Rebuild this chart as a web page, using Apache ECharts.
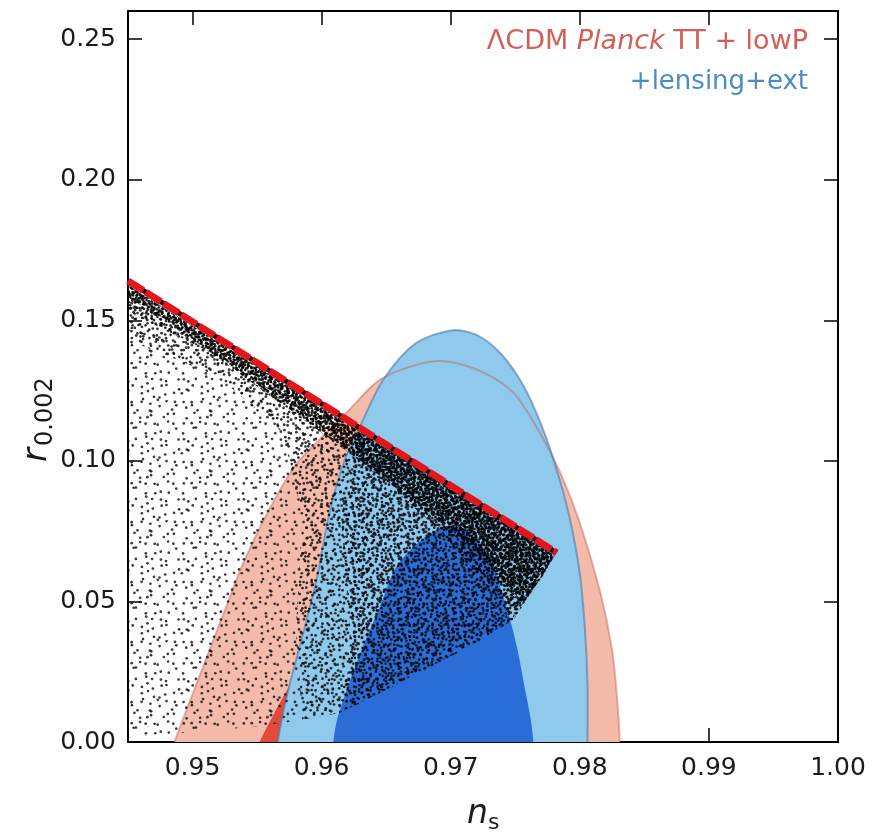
<!DOCTYPE html>
<html>
<head>
<meta charset="utf-8">
<script src="https://cdn.jsdelivr.net/npm/echarts@6/dist/echarts.min.js"></script>
<style>
  html, body { margin: 0; padding: 0; background: #fff; }
  #chart { width: 872px; height: 832px; }
</style>
</head>
<body>
<div id="chart"></div>
<script>
// Axis ticks
const xTicks = [0.95, 0.96, 0.97, 0.98, 0.99, 1.00];
const yTicks = [0.00, 0.05, 0.10, 0.15, 0.20, 0.25];

// ΛCDM Planck TT+lowP constraints (n_s, r_0.002): 95% and 68% regions
const planckOuter = [[0.9484,-0.004],[0.9486,0],[0.9500,0.017],[0.9514,0.0338],[0.9526,0.048],[0.9538,0.0623],[0.9558,0.0815],[0.9579,0.098],[0.9596,0.1065],[0.9621,0.118],[0.9645,0.1288],[0.9676,0.1345],[0.9697,0.1353],[0.9725,0.1315],[0.9749,0.124],[0.9769,0.110],[0.9785,0.0957],[0.9800,0.078],[0.9816,0.053],[0.9825,0.0327],[0.9829,0.0149],[0.9831,0],[0.9831,-0.004]];
const planckInner = [[0.9550,-0.004],[0.9552,0],[0.9563,0.010],[0.9575,0.020],[0.9592,0.034],[0.9612,0.055],[0.9634,0.078],[0.9660,0.095],[0.9692,0.101],[0.9725,0.095],[0.9752,0.080],[0.9770,0.058],[0.9780,0.035],[0.9784,0.015],[0.9785,0],[0.9785,-0.004]];
// +lensing+ext constraints: 95% and 68% regions
const extOuter = [[0.9565,-0.004],[0.9566,0],[0.9570,0.010],[0.9575,0.020],[0.9583,0.034],[0.9596,0.0577],[0.9606,0.0815],[0.9617,0.0993],[0.9631,0.1135],[0.9648,0.129],[0.9672,0.1415],[0.9700,0.1464],[0.9720,0.1448],[0.9739,0.1380],[0.9756,0.1270],[0.9770,0.1130],[0.9782,0.0970],[0.9792,0.0800],[0.9800,0.0600],[0.9804,0.0400],[0.9806,0.0200],[0.9806,0],[0.9806,-0.004]];
const extInner = [[0.9608,-0.004],[0.9609,0],[0.9612,0.008],[0.9622,0.022],[0.9632,0.034],[0.9645,0.048],[0.9658,0.0624],[0.9675,0.071],[0.9690,0.0755],[0.9705,0.0765],[0.9720,0.072],[0.9733,0.062],[0.9742,0.050],[0.9748,0.040],[0.9753,0.030],[0.9757,0.020],[0.9762,0.008],[0.9764,0],[0.9764,-0.004]];

// Model predictions: region covered by the sampled points, and where they pile up
const modelCloud = [[0.945,0.1625],[0.9781,0.0667],[0.9765,0.055],[0.97485,0.0434],[0.9715,0.034],[0.9684,0.0267],[0.9650,0.0185],[0.9614,0.0103],[0.9580,0.0075],[0.9550,0.0055],[0.9500,0.0035],[0.9450,0.0020]];
const modelCloudMid = [[0.945,0.1625],[0.9781,0.0667],[0.9765,0.055],[0.97485,0.0434],[0.9684,0.0267],[0.9614,0.0103],[0.9585,0.008],[0.9580,0.040],[0.9585,0.080],[0.9570,0.110],[0.9520,0.130],[0.9450,0.143]];
const modelCloudRight = [[0.9626,0.1115],[0.9781,0.0667],[0.9765,0.055],[0.97485,0.0434],[0.9715,0.034],[0.9684,0.0267],[0.9650,0.0185],[0.9618,0.0110],[0.9622,0.040],[0.9615,0.080]];
const modelCloudDense = [[0.945,0.1625],[0.9781,0.0667],[0.9765,0.055],[0.9748,0.044],[0.9720,0.060],[0.9690,0.076],[0.9650,0.092],[0.9600,0.112],[0.9530,0.135],[0.9450,0.153]];
const modelCloudCore = [[0.945,0.1625],[0.9781,0.0667],[0.9770,0.058],[0.9755,0.050],[0.9735,0.060],[0.9712,0.071],[0.9685,0.081],[0.9650,0.093],[0.9600,0.110],[0.9530,0.133],[0.9480,0.150],[0.9450,0.158]];
// Upper edge of the model predictions
const predictionLine = [[0.945,0.164],[0.9782,0.0673]];

// Stipple texture: one dot per grid cell, nudged inside its cell
function cellHash(i, j, s) {
  let h = (Math.imul(i + 1, 374761393) + Math.imul(j + 1, 668265263) + Math.imul(s + 1, 1442695041)) | 0;
  h = Math.imul(h ^ (h >>> 13), 1274126177);
  h ^= h >>> 16;
  return (h >>> 0) / 4294967296;
}
function stipple(cell, cells, seed, color, radius) {
  const size = Math.round(cell * cells);
  const step = size / cells;
  const c = document.createElement('canvas');
  c.width = size; c.height = size;
  const g = c.getContext('2d');
  g.fillStyle = color;
  for (let i = 0; i < cells; i++) for (let j = 0; j < cells; j++) {
    const px = (i + cellHash(i, j, seed)) * step;
    const py = (j + cellHash(j, i, seed + 17)) * step;
    for (const dx of [-size, 0, size]) for (const dy of [-size, 0, size]) {
      g.beginPath(); g.arc(px + dx, py + dy, radius, 0, Math.PI * 2); g.fill();
    }
  }
  return c;
}

const FONT = 'DejaVu Sans';

function region(name, pts, style, z, smooth) {
  return {
    type: 'custom', name, data: pts, z, silent: true,
    xAxisIndex: 0, yAxisIndex: 0,
    renderItem(params, api) {
      if (params.dataIndex !== 0) return null;
      const cs = params.coordSys;
      return {
        type: 'polygon',
        shape: { points: pts.map(p => api.coord(p)), smooth: smooth || 0 },
        style,
        clipPath: { type: 'rect', shape: { x: cs.x, y: cs.y, width: cs.width, height: cs.height } }
      };
    }
  };
}

const chart = echarts.init(document.getElementById('chart'), null, { renderer: 'canvas' });

const tickStyle = { inside: true, length: 14, lineStyle: { color: '#000', width: 1.5 } };
const lineStyle = { lineStyle: { color: '#000', width: 2 } };

chart.setOption({
  animation: false,
  backgroundColor: '#fff',
  grid: { left: 128, right: 34, top: 11, bottom: 90, containLabel: false },
  xAxis: [
    { type: 'value', min: 0.945, max: 1.0, position: 'bottom', splitLine: { show: false },
      axisLine: { show: true, onZero: false, ...lineStyle },
      axisTick: { ...tickStyle, customValues: xTicks },
      axisLabel: { customValues: xTicks, margin: 14, fontSize: 25, fontFamily: FONT, color: '#1a1a1a', formatter: v => v.toFixed(2) } },
    { type: 'value', min: 0.945, max: 1.0, position: 'top', splitLine: { show: false },
      axisLine: { show: true, onZero: false, ...lineStyle },
      axisTick: { ...tickStyle, customValues: xTicks },
      axisLabel: { show: false } }
  ],
  yAxis: [
    { type: 'value', min: 0, max: 0.26, position: 'left', splitLine: { show: false },
      axisLine: { show: true, onZero: false, ...lineStyle },
      axisTick: { ...tickStyle, customValues: yTicks },
      axisLabel: { customValues: yTicks, margin: 12, fontSize: 25, fontFamily: FONT, color: '#1a1a1a', formatter: v => v.toFixed(2) } },
    { type: 'value', min: 0, max: 0.26, position: 'right', splitLine: { show: false },
      axisLine: { show: true, onZero: false, ...lineStyle },
      axisTick: { ...tickStyle, customValues: yTicks },
      axisLabel: { show: false } }
  ],
  series: [
    region('planck95', planckOuter, { fill: '#f5bbaa' }, 1, 0.3),
    region('planck68', planckInner, { fill: '#e04b3b' }, 2, 0.3),
    region('ext95', extOuter, { fill: '#8fc9ec' }, 3, 0.3),
    region('ext68', extInner, { fill: '#2a6dd6' }, 4, 0.3),
    region('planck95 edge', planckOuter, { fill: 'none', stroke: 'rgba(195,95,85,0.45)', lineWidth: 2 }, 5, 0.3),
    region('ext95 edge', extOuter, { fill: 'none', stroke: 'rgba(80,120,175,0.6)', lineWidth: 2 }, 6, 0.3),
    region('models', modelCloud, { fill: { image: stipple(7.5, 8, 1, 'rgba(25,25,25,0.85)', 1.35), repeat: 'repeat' } }, 7, 0),
    region('models mid', modelCloudMid, { fill: { image: stipple(5.5, 10, 5, 'rgba(10,10,10,0.85)', 1.35), repeat: 'repeat' } }, 8, 0),
    region('models right', modelCloudRight, { fill: { image: stipple(5, 11, 21, 'rgba(5,5,20,0.85)', 1.35), repeat: 'repeat' } }, 8, 0),
    region('models dense', modelCloudDense, { fill: { image: stipple(4.2, 12, 9, 'rgba(0,0,0,0.85)', 1.35), repeat: 'repeat' } }, 9, 0),
    region('models core', modelCloudCore, { fill: { image: stipple(3, 14, 13, 'rgba(0,0,0,0.9)', 1.3), repeat: 'repeat' } }, 10, 0),
    { type: 'line', name: 'edge shadow', data: predictionLine, z: 11, symbol: 'none', silent: true,
      xAxisIndex: 0, yAxisIndex: 0,
      lineStyle: { color: '#1a0505', width: 5 } },
    { type: 'line', name: 'edge', data: predictionLine, z: 12, symbol: 'none', silent: true,
      xAxisIndex: 0, yAxisIndex: 0,
      lineStyle: { color: '#e3161d', width: 7, type: [18, 3], cap: 'butt' } }
  ],
  graphic: [
    { type: 'text', right: 64, top: 28, z: 20,
      style: { text: '{a|ΛCDM }{b|Planck}{a| TT + lowP}',
        rich: { a: { fontSize: 27, fontFamily: FONT, fill: '#d25f5a' },
                b: { fontSize: 27, fontFamily: FONT, fontStyle: 'italic', fill: '#d25f5a' } } } },
    { type: 'text', right: 64, top: 69, z: 20,
      style: { text: '+lensing+ext', fontSize: 26, fontFamily: FONT, fill: '#4a8cc8' } },
    { type: 'group', left: 467, top: 798, children: [
      { type: 'text', x: 0, y: 0, style: { text: 'n', fontSize: 33, fontFamily: FONT, fontStyle: 'italic', fill: '#1a1a1a' } },
      { type: 'text', x: 21, y: 14, style: { text: 's', fontSize: 22, fontFamily: FONT, fill: '#1a1a1a' } }
    ] },
    { type: 'group', x: 20, y: 462, rotation: Math.PI / 2, children: [
      { type: 'text', x: 0, y: 0, style: { text: 'r', fontSize: 34, fontFamily: FONT, fontStyle: 'italic', fill: '#1a1a1a' } },
      { type: 'text', x: 16, y: 14, style: { text: '0.002', fontSize: 24, fontFamily: FONT, fill: '#1a1a1a' } }
    ] }
  ]
});
</script>
</body>
</html>
